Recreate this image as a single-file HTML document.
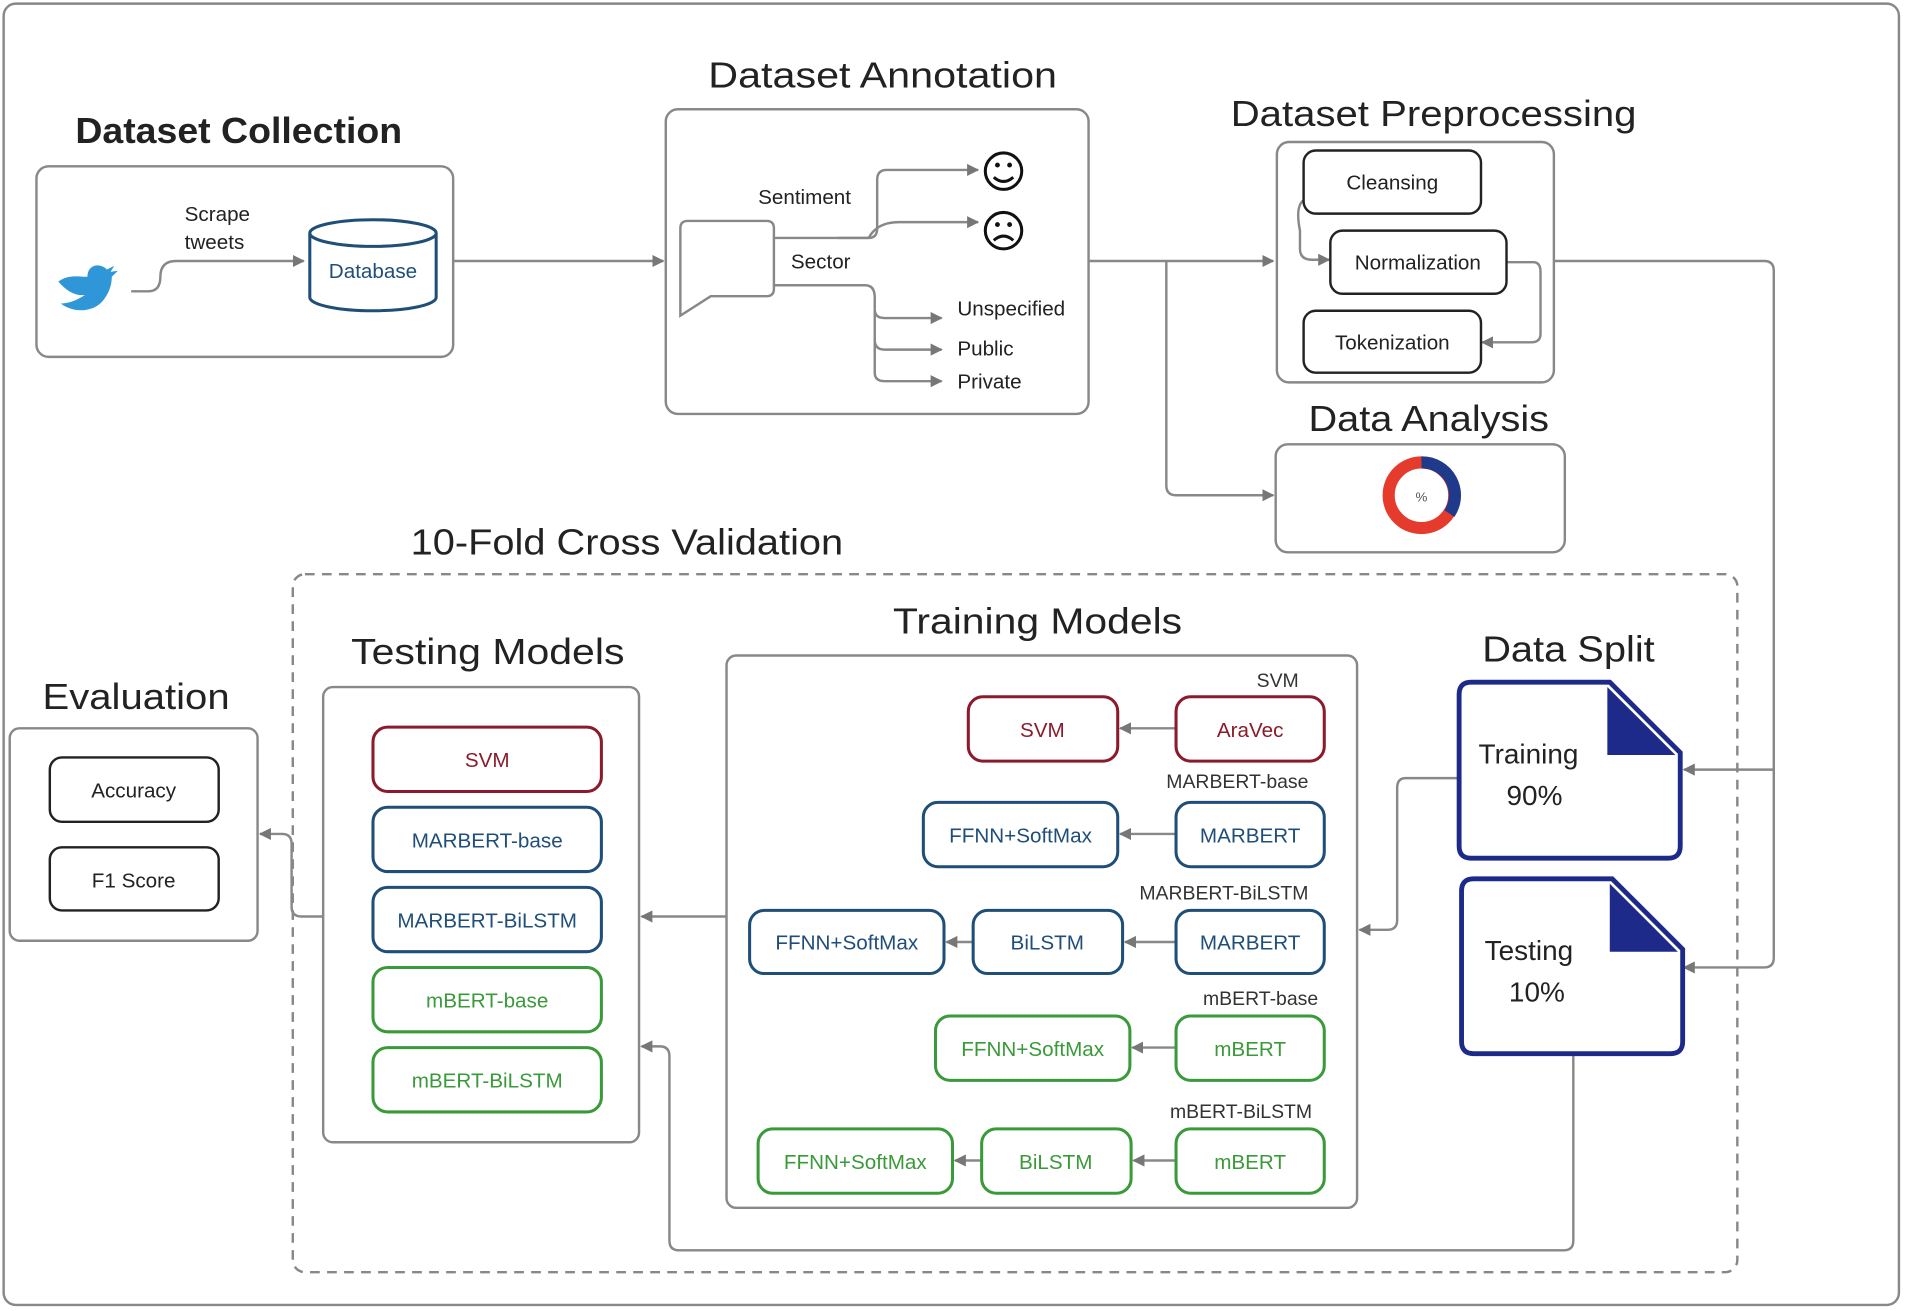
<!DOCTYPE html>
<html><head><meta charset="utf-8"><style>
html,body{margin:0;padding:0;background:#fff;}
svg{display:block;}
text{font-family:"Liberation Sans","DejaVu Sans",sans-serif;}
</style></head><body>
<svg width="1905" height="1311" viewBox="0 0 1568 1080" preserveAspectRatio="none" xmlns="http://www.w3.org/2000/svg">
<defs>
<marker id="a" viewBox="0 0 10 10" refX="9" refY="5" markerWidth="5" markerHeight="5" orient="auto"><path d="M0,0L10,5L0,10z" fill="#777"/></marker>
</defs>
<rect x="3" y="3" width="1560" height="1072" rx="10" fill="none" stroke="#888" stroke-width="2"/>
<g fill="none" stroke="#888" stroke-width="2">
<rect x="30" y="137" width="343" height="157" rx="10"/>
<rect x="548" y="90" width="348" height="251" rx="10"/>
<rect x="1051" y="117" width="228" height="198" rx="10"/>
<rect x="1050" y="366" width="238" height="89" rx="10"/>
<rect x="241" y="473" width="1189" height="575" rx="10" stroke-dasharray="8,6"/>
<rect x="598" y="540" width="519" height="455" rx="8"/>
<rect x="266" y="566" width="260" height="375" rx="8"/>
<rect x="8" y="600" width="204" height="175" rx="8"/>
</g>
<g font-size="30" fill="#222" lengthAdjust="spacingAndGlyphs">
<text x="62" y="118" font-weight="bold" font-size="30" textLength="269" lengthAdjust="spacingAndGlyphs">Dataset Collection</text>
<text x="583" y="72" textLength="287" lengthAdjust="spacingAndGlyphs">Dataset Annotation</text>
<text x="1013" y="104" textLength="334" lengthAdjust="spacingAndGlyphs">Dataset Preprocessing</text>
<text x="1077" y="355" textLength="198" lengthAdjust="spacingAndGlyphs">Data Analysis</text>
<text x="338" y="457" textLength="356" lengthAdjust="spacingAndGlyphs">10-Fold Cross Validation</text>
<text x="735" y="522" textLength="238" lengthAdjust="spacingAndGlyphs">Training Models</text>
<text x="1220" y="545" textLength="142" lengthAdjust="spacingAndGlyphs">Data Split</text>
<text x="289" y="547" textLength="225" lengthAdjust="spacingAndGlyphs">Testing Models</text>
<text x="35" y="584" textLength="154" lengthAdjust="spacingAndGlyphs">Evaluation</text>
</g>
<path d="M48,232 C55,240 62,244 70,243 C62,248 56,250 50,250 C60,258 78,258 86,246 C92,238 92,230 92,228 L97,223 L91,224 L94,219 L88,222 C82,216 72,218 72,228 C64,228 56,226 48,232z" fill="#2f96d8"/>
<g fill="none" stroke="#888" stroke-width="2">
<path d="M108,240 L122,240 Q132,240 132,228 Q132,215 145,215 L250,215" marker-end="url(#a)"/>
<path d="M373,215 L546,215" marker-end="url(#a)"/>
<path d="M896,215 L1048,215" marker-end="url(#a)"/>
<path d="M960,215 L960,400 Q960,408 968,408 L1048,408" marker-end="url(#a)"/>
<path d="M637,196 L715,196 Q722,196 722,188 L722,148 Q722,140 730,140 L805,140" marker-end="url(#a)"/>
<path d="M690,196 L715,196 Q722,183 740,183 L805,183" marker-end="url(#a)"/>
<path d="M637,235 L712,235 Q720,235 720,245 L720,255 Q720,262 728,262 L775,262" marker-end="url(#a)"/>
<path d="M720,255 L720,280 Q720,288 728,288 L775,288" marker-end="url(#a)"/>
<path d="M720,280 L720,307 Q720,314 728,314 L775,314" marker-end="url(#a)"/>
<path d="M1073,165 Q1066,170 1070,190 L1070,205 Q1070,214 1080,214 L1094,214" marker-end="url(#a)"/>
<path d="M1240,216 L1262,216 Q1268,216 1268,224 L1268,275 Q1268,282 1260,282 L1220,282" marker-end="url(#a)"/>
<path d="M1279,215 L1452,215 Q1460,215 1460,223 L1460,789 Q1460,797 1452,797 L1386,797" marker-end="url(#a)"/>
<path d="M1460,634 L1386,634" marker-end="url(#a)"/>
<path d="M1201,641 L1157,641 Q1150,641 1150,649 L1150,758 Q1150,766 1142,766 L1119,766" marker-end="url(#a)"/>
<path d="M598,755 L528,755" marker-end="url(#a)"/>
<path d="M266,755 L248,755 Q240,755 240,747 L240,695 Q240,687 232,687 L214,687" marker-end="url(#a)"/>
<path d="M1295,868 L1295,1022 Q1295,1030 1287,1030 L559,1030 Q551,1030 551,1022 L551,870 Q551,862 543,862 L528,862" marker-end="url(#a)"/>
<path d="M968,600 L922,600" marker-end="url(#a)"/>
<path d="M968,687 L922,687" marker-end="url(#a)"/>
<path d="M968,776 L926,776" marker-end="url(#a)"/>
<path d="M801,776 L779,776" marker-end="url(#a)"/>
<path d="M968,863 L932,863" marker-end="url(#a)"/>
<path d="M968,956 L933,956" marker-end="url(#a)"/>
<path d="M808,956 L786,956" marker-end="url(#a)"/>
</g>
<g fill="#fff" stroke="#1f4e79" stroke-width="2.5">
<path d="M255,192 L255,245 A52,11 0 0 0 359,245 L359,192"/>
<ellipse cx="307" cy="192" rx="52" ry="11"/>
</g>
<text x="307" y="229" font-size="17" fill="#1f4e79" text-anchor="middle">Database</text>
<g font-size="17" fill="#222">
<text x="152" y="182">Scrape</text><text x="152" y="205">tweets</text>
<text x="624" y="168">Sentiment</text>
<text x="651" y="221">Sector</text>
<text x="788" y="260">Unspecified</text>
<text x="788" y="293">Public</text>
<text x="788" y="320">Private</text>
</g>
<path d="M566,182 L631,182 Q637,182 637,188 L637,238 Q637,244 631,244 L585,244 L560,260 L560,188 Q560,182 566,182z" fill="#fff" stroke="#888" stroke-width="2"/>
<g fill="none" stroke="#111" stroke-width="2.5">
<circle cx="826" cy="141" r="15"/><path d="M818,146 Q826,153 834,146"/>
<circle cx="826" cy="190" r="15"/><path d="M818,198 Q826,191 834,198"/>
</g>
<g fill="#111"><circle cx="821" cy="136" r="2"/><circle cx="831" cy="136" r="2"/><circle cx="821" cy="185" r="2"/><circle cx="831" cy="185" r="2"/></g>
<g fill="#fff" stroke="#222" stroke-width="2">
<rect x="1073" y="124" width="146" height="52" rx="10"/>
<rect x="1095" y="190" width="145" height="52" rx="10"/>
<rect x="1073" y="256" width="146" height="51" rx="10"/>
<rect x="41" y="624" width="139" height="53" rx="10"/>
<rect x="41" y="698" width="139" height="52" rx="10"/>
</g>
<g font-size="17" fill="#222" text-anchor="middle">
<text x="1146" y="156">Cleansing</text>
<text x="1167" y="222">Normalization</text>
<text x="1146" y="288">Tokenization</text>
<text x="110" y="657">Accuracy</text>
<text x="110" y="731">F1 Score</text>
</g>
<circle cx="1170" cy="408" r="27" fill="none" stroke="#e53b2c" stroke-width="10"/>
<path d="M1170,381 A27,27 0 0 1 1193,423" fill="none" stroke="#1f3a8a" stroke-width="10"/>
<text x="1170" y="413" font-size="11" fill="#555" text-anchor="middle">%</text>
<g fill="#fff" stroke="#1e2a8a" stroke-width="4">
<path d="M1211,562 L1325,562 L1383,620 L1383,697 Q1383,707 1373,707 L1211,707 Q1201,707 1201,697 L1201,572 Q1201,562 1211,562z"/>
<path d="M1213,724 L1327,724 L1385,782 L1385,858 Q1385,868 1375,868 L1213,868 Q1203,868 1203,858 L1203,734 Q1203,724 1213,724z"/>
</g>
<path d="M1323,566 L1379,622 L1323,622z" fill="#1e2a8a"/>
<path d="M1325,728 L1381,784 L1325,784z" fill="#1e2a8a"/>
<g font-size="23" fill="#222">
<text x="1217" y="629">Training</text><text x="1240" y="663">90%</text>
<text x="1222" y="791">Testing</text><text x="1242" y="825">10%</text>
</g>
<g font-size="16" fill="#333" text-anchor="end">
<text x="1069" y="566">SVM</text>
<text x="1077" y="649">MARBERT-base</text>
<text x="1077" y="741">MARBERT-BiLSTM</text>
<text x="1085" y="828">mBERT-base</text>
<text x="1080" y="921">mBERT-BiLSTM</text>
</g>
<g fill="#fff" stroke-width="2.5">
<g stroke="#8b1a2a"><rect x="797" y="574" width="123" height="53" rx="12"/><rect x="968" y="574" width="122" height="53" rx="12"/><rect x="307" y="599" width="188" height="53" rx="12"/></g>
<g stroke="#1f4e79">
<rect x="760" y="661" width="160" height="53" rx="12"/><rect x="968" y="661" width="122" height="53" rx="12"/>
<rect x="617" y="750" width="160" height="52" rx="12"/><rect x="801" y="750" width="123" height="52" rx="12"/><rect x="968" y="750" width="122" height="52" rx="12"/>
<rect x="307" y="665" width="188" height="53" rx="12"/><rect x="307" y="731" width="188" height="53" rx="12"/></g>
<g stroke="#3a9a3a">
<rect x="770" y="837" width="160" height="53" rx="12"/><rect x="968" y="837" width="122" height="53" rx="12"/>
<rect x="624" y="930" width="160" height="53" rx="12"/><rect x="808" y="930" width="123" height="53" rx="12"/><rect x="968" y="930" width="122" height="53" rx="12"/>
<rect x="307" y="797" width="188" height="53" rx="12"/><rect x="307" y="863" width="188" height="53" rx="12"/></g>
</g>
<g font-size="17" text-anchor="middle">
<g fill="#8b1a2a"><text x="858" y="607">SVM</text><text x="1029" y="607">AraVec</text><text x="401" y="632">SVM</text></g>
<g fill="#1f4e79"><text x="840" y="694">FFNN+SoftMax</text><text x="1029" y="694">MARBERT</text>
<text x="697" y="782">FFNN+SoftMax</text><text x="862" y="782">BiLSTM</text><text x="1029" y="782">MARBERT</text>
<text x="401" y="698">MARBERT-base</text><text x="401" y="764">MARBERT-BiLSTM</text></g>
<g fill="#3a9a3a"><text x="850" y="870">FFNN+SoftMax</text><text x="1029" y="870">mBERT</text>
<text x="704" y="963">FFNN+SoftMax</text><text x="869" y="963">BiLSTM</text><text x="1029" y="963">mBERT</text>
<text x="401" y="830">mBERT-base</text><text x="401" y="896">mBERT-BiLSTM</text></g>
</g>
</svg>
</body></html>
